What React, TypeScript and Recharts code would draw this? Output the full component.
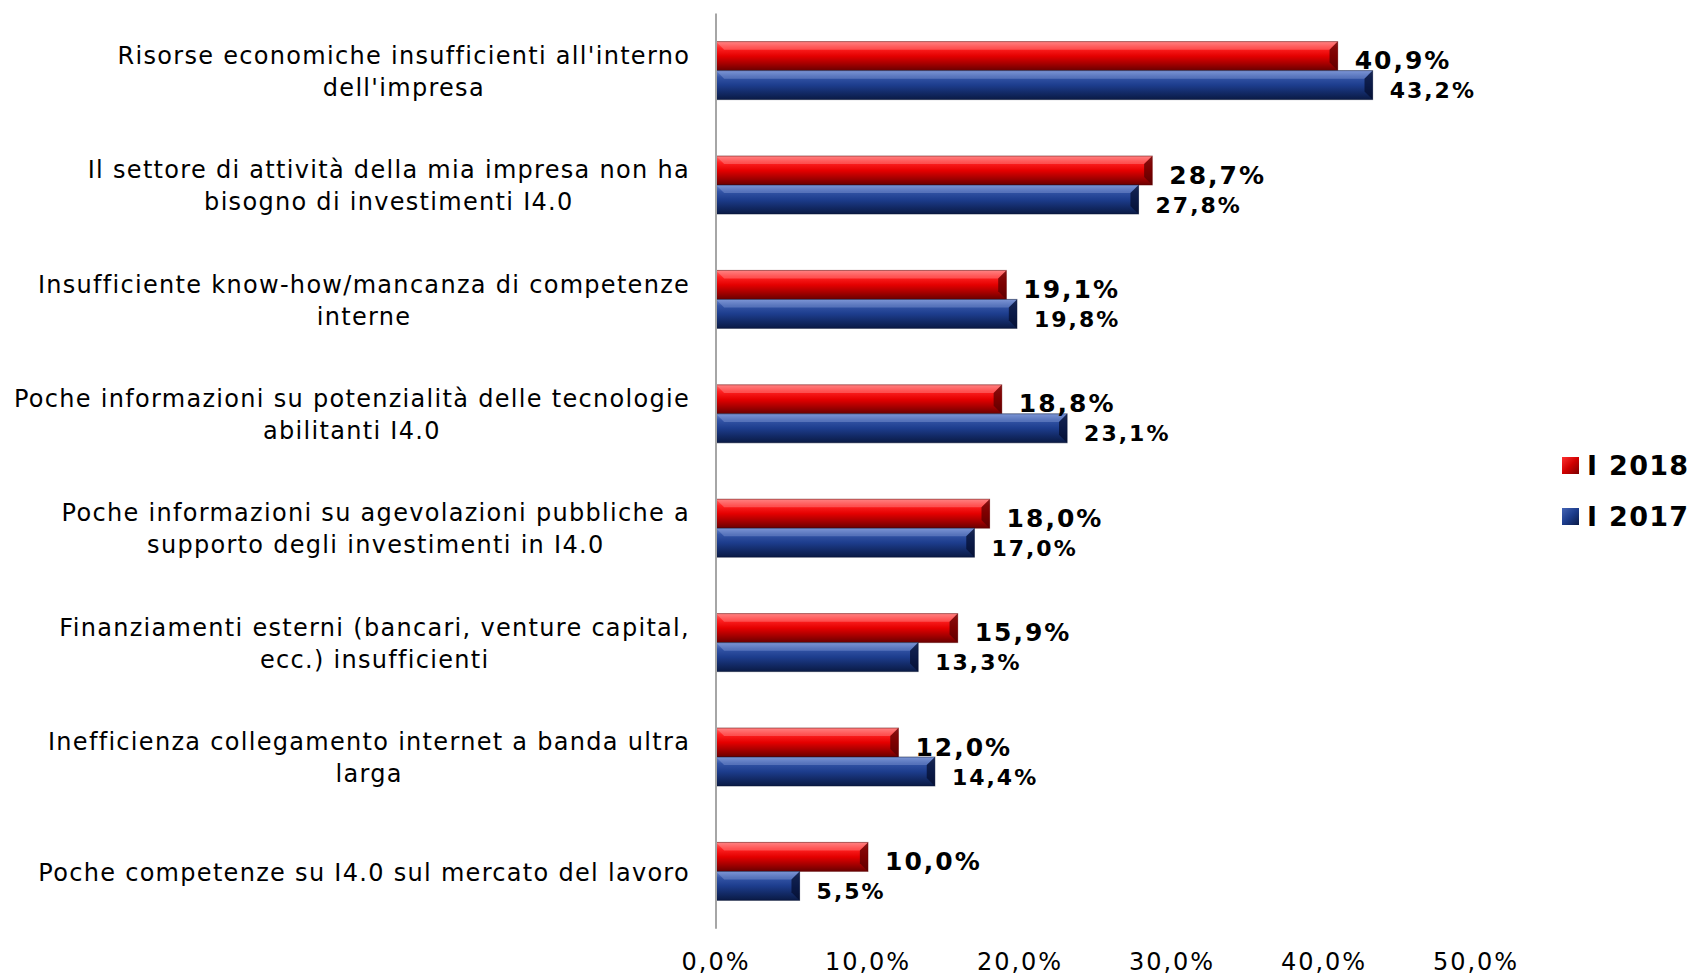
import { Bar, BarChart, LabelList, XAxis, YAxis } from 'recharts';

const categories = [
  "Risorse economiche insufficienti all'interno\ndell'impresa",
  "Il settore di attività della mia impresa non ha\nbisogno di investimenti I4.0",
  "Insufficiente know-how/mancanza di competenze\ninterne",
  "Poche informazioni su potenzialità delle tecnologie\nabilitanti I4.0",
  "Poche informazioni su agevolazioni pubbliche a\nsupporto degli investimenti in I4.0",
  "Finanziamenti esterni (bancari, venture capital,\necc.) insufficienti",
  "Inefficienza collegamento internet a banda ultra\nlarga",
  "Poche competenze su I4.0 sul mercato del lavoro",
];
const values2018 = [40.9, 28.7, 19.1, 18.8, 18.0, 15.9, 12.0, 10.0];
const values2017 = [43.2, 27.8, 19.8, 23.1, 17.0, 13.3, 14.4, 5.5];
const xTicks = [0, 10, 20, 30, 40, 50];
const seriesNames = ['I 2018', 'I 2017'];

const data = categories.map((name, i) => ({
  name,
  y2018: values2018[i],
  y2017: values2017[i],
}));

const FONT = "'DejaVu Sans', Verdana, sans-serif";
const fmt = (v: number) => v.toFixed(1).replace('.', ',') + '%';

let ctx: CanvasRenderingContext2D | null = null;
function textWidth(s: string, size: number, spacing: number) {
  if (!ctx) ctx = document.createElement('canvas').getContext('2d');
  if (!ctx) return s.length * size * 0.6;
  ctx.font = `${size}px 'DejaVu Sans'`;
  return ctx.measureText(s).width + spacing * s.length;
}

function CategoryTick({ x, y, payload }: any) {
  const lines: string[] = String(payload.value).split('\n');
  const maxW = Math.max(...lines.map((l) => textWidth(l, 24, 1.3)));
  const cx = x - maxW / 2;
  return (
    <g>
      {lines.map((l, i) => (
        <text
          key={i}
          x={cx}
          y={y + (i - (lines.length - 1) / 2) * 32 + 9}
          textAnchor="middle"
          fontFamily={FONT}
          fontSize={24}
          letterSpacing={1.3}
          fill="#000"
        >
          {l}
        </text>
      ))}
    </g>
  );
}

function ValueTick({ x, y, payload }: any) {
  return (
    <text x={x} y={y + 41} textAnchor="middle" fontFamily={FONT} fontSize={24} letterSpacing={2} fill="#000">
      {fmt(payload.value)}
    </text>
  );
}

function BevelBar({ x, y, width, height, gid, dark, light }: any) {
  if (!width || width <= 0) return null;
  const b = Math.min(height * 0.28, width / 2);
  return (
    <g>
      <rect x={x} y={y} width={width} height={height} fill={`url(#${gid})`} />
      <polygon
        points={`${x},${y} ${x + width},${y} ${x + width - b},${y + b} ${x + b},${y + b}`}
        fill={light}
        opacity={0.35}
      />
      <polygon
        points={`${x + width},${y} ${x + width - b},${y + b} ${x + width - b},${y + height - b} ${x + width},${y + height}`}
        fill={dark}
        opacity={0.75}
      />
      <rect x={x} y={y} width={width} height={height} fill="none" stroke={dark} strokeOpacity={0.5} strokeWidth={1} />
    </g>
  );
}

function makeLabel(size: number) {
  return ({ x, y, width, height, value }: any) => (
    <text
      x={x + width + 17}
      y={y + height - 1.5}
      fontFamily={FONT}
      fontSize={size}
      fontWeight="bold"
      letterSpacing={2}
      fill="#000"
    >
      {fmt(value)}
    </text>
  );
}

const legendItems = [
  { name: seriesNames[0], bg: 'linear-gradient(135deg, #ff3030 0%, #d00000 50%, #7a0000 100%)' },
  { name: seriesNames[1], bg: 'linear-gradient(135deg, #4565b5 0%, #1c3c8c 50%, #0a1a45 100%)' },
];

export default function App() {
  return (
    <div style={{ position: 'absolute', left: 0, top: 0, width: 1697, height: 976, background: '#fff' }}>
      <BarChart
        width={1697}
        height={976}
        data={data}
        layout="vertical"
        barGap={0}
        margin={{ top: 13.6, right: 221, bottom: 0, left: 0 }}
      >
        <defs>
          <linearGradient id="gradRed" x1="0" y1="0" x2="0" y2="1">
            <stop offset="0%" stopColor="#ff6a6a" />
            <stop offset="22%" stopColor="#ff2222" />
            <stop offset="50%" stopColor="#e40000" />
            <stop offset="75%" stopColor="#a80000" />
            <stop offset="100%" stopColor="#6a0000" />
          </linearGradient>
          <linearGradient id="gradBlue" x1="0" y1="0" x2="0" y2="1">
            <stop offset="0%" stopColor="#6a86cc" />
            <stop offset="22%" stopColor="#3354a6" />
            <stop offset="50%" stopColor="#1d3d8d" />
            <stop offset="75%" stopColor="#132b68" />
            <stop offset="100%" stopColor="#0a1a45" />
          </linearGradient>
        </defs>
        <XAxis
          type="number"
          domain={[0, 50]}
          ticks={xTicks}
          axisLine={false}
          tickLine={false}
          tickSize={0}
          tickMargin={0}
          height={47.2}
          tick={<ValueTick />}
          interval={0}
        />
        <YAxis
          type="category"
          dataKey="name"
          width={716}
          tickLine={false}
          tickSize={0}
          tickMargin={26}
          axisLine={{ stroke: '#a6a6a6', strokeWidth: 2 }}
          tick={<CategoryTick />}
          interval={0}
        />
        <Bar
          dataKey="y2018"
          name={seriesNames[0]}
          barSize={29}
          isAnimationActive={false}
          shape={(p: any) => <BevelBar {...p} gid="gradRed" dark="#5a0000" light="#ffb0b0" />}
        >
          <LabelList dataKey="y2018" content={makeLabel(25)} />
        </Bar>
        <Bar
          dataKey="y2017"
          name={seriesNames[1]}
          barSize={29}
          isAnimationActive={false}
          shape={(p: any) => <BevelBar {...p} gid="gradBlue" dark="#050f30" light="#9fb3e6" />}
        >
          <LabelList dataKey="y2017" content={makeLabel(22)} />
        </Bar>
      </BarChart>
      <div style={{ position: 'absolute', left: 1562, top: 440, fontFamily: FONT }}>
        {legendItems.map((it) => (
          <div key={it.name} style={{ display: 'flex', alignItems: 'center', height: 51 }}>
            <div style={{ width: 17, height: 17, background: it.bg, marginRight: 8 }} />
            <span style={{ fontSize: 27, fontWeight: 'bold', letterSpacing: 1.3, color: '#000', lineHeight: 1 }}>
              {it.name}
            </span>
          </div>
        ))}
      </div>
    </div>
  );
}
